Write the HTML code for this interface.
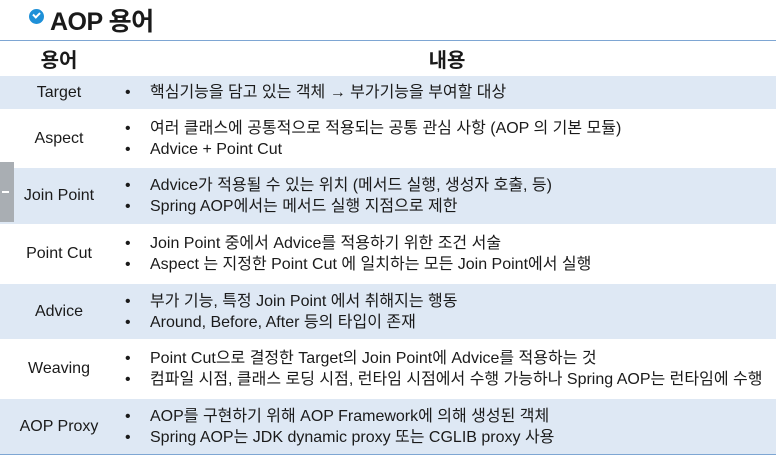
<!DOCTYPE html>
<html><head><meta charset="utf-8"><style>
body{margin:0;width:776px;height:456px;background:#fff;position:relative;overflow:hidden;font-family:"Liberation Sans","Noto Sans CJK KR",sans-serif;color:#1a1a1a}
.t{position:absolute;left:50px;top:2px;font-size:25px;font-weight:bold;letter-spacing:-0.5px}
.chk{position:absolute;left:29px;top:9px;width:15px;height:15px;border-radius:50%;background:#1e90d8}
.chk:after{content:"";position:absolute;left:4px;top:3px;width:5px;height:3px;border-left:2px solid #fff;border-bottom:2px solid #fff;transform:rotate(-45deg)}
.row{position:absolute;left:0;width:776px;box-sizing:border-box}
.lab{position:absolute;left:0;width:118px;top:0;bottom:0;display:flex;align-items:center;justify-content:center;font-size:16px}
.con{position:absolute;left:125px;right:0;top:0;bottom:0;display:flex;flex-direction:column;justify-content:center;font-size:16px;line-height:21px;white-space:nowrap}
.con div:before{content:"•";display:inline-block;width:25px}
.blue{background:#dee8f4}
.hdr{font-weight:bold;font-size:20px}
</style></head><body>
<div class="chk"></div>
<div class="t">AOP 용어</div>
<div style="position:absolute;left:0;top:40px;width:776px;height:1px;background:#7ea6d3"></div>
<div class="row" style="top:41px;height:34px">
<div class="lab hdr">용어</div>
<div style="position:absolute;left:118px;right:0;top:0;bottom:0;display:flex;align-items:center;justify-content:center" class="hdr">내용</div></div>
<div class="row blue" style="top:76px;height:33px"><div class="lab">Target</div><div class="con"><div>핵심기능을 담고 있는 객체 → 부가기능을 부여할 대상</div></div></div>
<div class="row" style="top:111px;height:55px"><div class="lab">Aspect</div><div class="con"><div>여러 클래스에 공통적으로 적용되는 공통 관심 사항 (AOP 의 기본 모듈)</div><div>Advice + Point Cut</div></div></div>
<div class="row blue" style="top:168px;height:56px"><div class="lab">Join Point</div><div class="con"><div>Advice가 적용될 수 있는 위치 (메서드 실행, 생성자 호출, 등)</div><div>Spring AOP에서는 메서드 실행 지점으로 제한</div></div></div>
<div class="row" style="top:226px;height:56px"><div class="lab">Point Cut</div><div class="con"><div>Join Point 중에서 Advice를 적용하기 위한 조건 서술</div><div>Aspect 는 지정한 Point Cut 에 일치하는 모든 Join Point에서 실행</div></div></div>
<div class="row blue" style="top:284px;height:55px"><div class="lab">Advice</div><div class="con"><div>부가 기능, 특정 Join Point 에서 취해지는 행동</div><div>Around, Before, After 등의 타입이 존재</div></div></div>
<div class="row" style="top:341px;height:56px"><div class="lab">Weaving</div><div class="con"><div>Point Cut으로 결정한 Target의 Join Point에 Advice를 적용하는 것</div><div>컴파일 시점, 클래스 로딩 시점, 런타임 시점에서 수행 가능하나 Spring AOP는 런타임에 수행</div></div></div>
<div class="row blue" style="top:399px;height:55px"><div class="lab">AOP Proxy</div><div class="con"><div>AOP를 구현하기 위해 AOP Framework에 의해 생성된 객체</div><div>Spring AOP는 JDK dynamic proxy 또는 CGLIB proxy 사용</div></div></div>
<div style="position:absolute;left:0;top:454px;width:776px;height:1px;background:#7ea6d3"></div>
<div style="position:absolute;left:0;top:162px;width:14px;height:60px;background:#a9aeb3"><div style="position:absolute;left:2px;top:29px;width:7px;height:2px;background:#fff"></div></div>
</body></html>
